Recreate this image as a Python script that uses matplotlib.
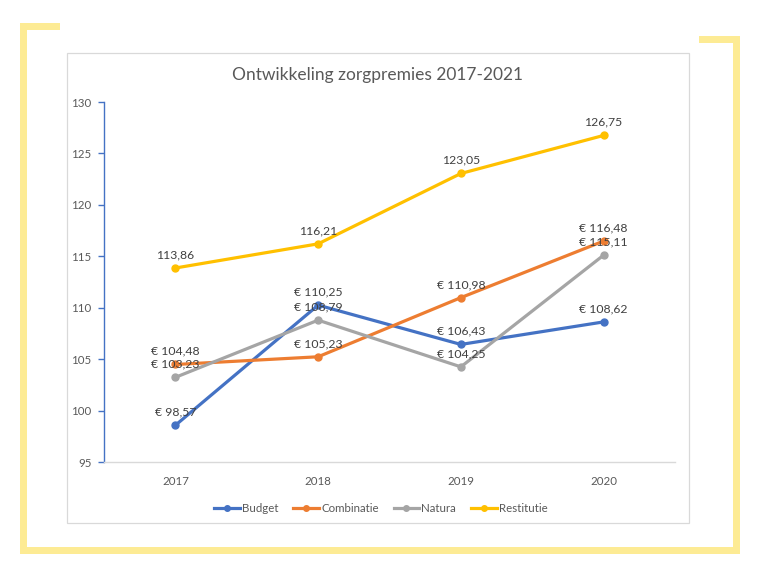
import matplotlib.pyplot as plt
from matplotlib.patches import Rectangle

plt.rcParams['font.family'] = ['Lato', 'DejaVu Sans']

years = ['2017', '2018', '2019', '2020']
budget = [98.57, 110.25, 106.43, 108.62]
combinatie = [104.48, 105.23, 110.98, 116.48]
natura = [103.23, 108.79, 104.25, 115.11]
restitutie = [113.86, 116.21, 123.05, 126.75]

series = [
    ('Budget', budget, '#4472C4', '€ '),
    ('Combinatie', combinatie, '#ED7D31', '€ '),
    ('Natura', natura, '#A5A5A5', '€ '),
    ('Restitutie', restitutie, '#FFC000', ''),
]

W, H = 766, 574
fig = plt.figure(figsize=(W / 100, H / 100), dpi=100)
fig.patch.set_facecolor('white')

# achtergrond met gele hoekframe en grijze kaderrand (pixelcoordinaten)
bg = fig.add_axes([0, 0, 1, 1])
bg.set_xlim(0, W)
bg.set_ylim(H, 0)
bg.axis('off')
geel = '#FDEB94'
for x, y, w, h in [(20, 23, 7, 531), (20, 23, 40, 7), (20, 547, 720, 7),
                   (733, 36, 7, 518), (699, 36, 41, 7)]:
    bg.add_patch(Rectangle((x, y), w, h, facecolor=geel, edgecolor='none'))
bg.add_patch(Rectangle((67, 53), 622, 470, facecolor='white', edgecolor='#D9D9D9', lw=0.9))
bg.text(378, 75, 'Ontwikkeling zorgpremies 2017-2021', ha='center', va='center',
        fontsize=12.5, color='#595959')

# grafiek
ax = fig.add_axes([104 / W, 1 - 462 / H, (675 - 104) / W, (462 - 102) / H])
ax.patch.set_alpha(0)
x = range(len(years))
for naam, vals, kleur, prefix in series:
    ax.plot(x, vals, color=kleur, lw=2.3, marker='o', markersize=5, label=naam)
    for xi, v in zip(x, vals):
        ax.annotate(prefix + f'{v:.2f}'.replace('.', ','), (xi, v), xytext=(0, 5.5),
                    textcoords='offset points', ha='center', va='bottom',
                    fontsize=8.8, color='#404040')

ax.set_xlim(-0.5, 3.5)
ax.set_ylim(95, 130)
ax.set_yticks(range(95, 131, 5))
ax.set_xticks(list(x))
ax.set_xticklabels(years)
for s in ['top', 'right']:
    ax.spines[s].set_visible(False)
ax.spines['left'].set_color('#4472C4')
ax.spines['left'].set_linewidth(1)
ax.spines['bottom'].set_color('#D9D9D9')
ax.spines['bottom'].set_linewidth(1)
ax.tick_params(axis='y', colors='#4472C4', length=4, width=1, labelcolor='#595959',
               labelsize=8.3, pad=5)
ax.tick_params(axis='x', length=0, labelcolor='#595959', labelsize=8.3, pad=10)

ax.legend(loc='upper center', bbox_to_anchor=(0.485, -0.085), ncol=4, frameon=False,
          fontsize=8.3, labelcolor='#595959', handlelength=2.2, handletextpad=0.2,
          columnspacing=1.3, markerscale=0.8)

fig.savefig('out.png', dpi=100)
